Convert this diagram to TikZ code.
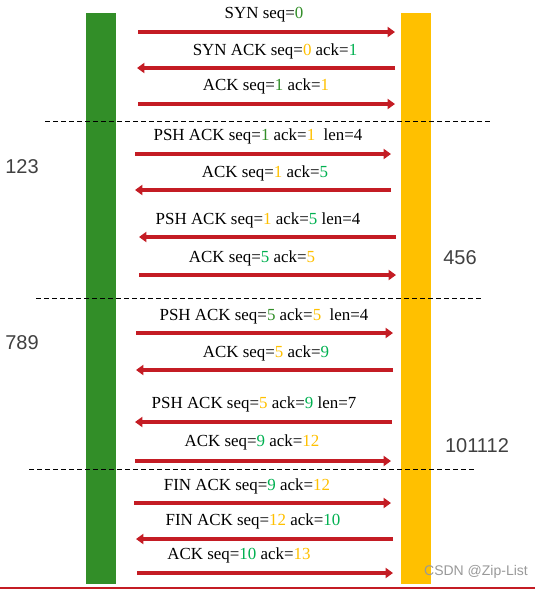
\documentclass[tikz,border=0pt]{standalone}
\usepackage{xcolor}
\usepackage{fontspec}
\setmainfont{Liberation Serif}
\newfontfamily\sidefont{Liberation Sans}
\usepackage{tikz}
\usetikzlibrary{arrows.meta, positioning}

\definecolor{barGreen}{RGB}{50,142,40}
\definecolor{barYellow}{RGB}{255,192,0}
\definecolor{msgRed}{RGB}{196,28,36}
\definecolor{dkGreen}{RGB}{50,142,40}
\definecolor{ltGreen}{RGB}{0,176,80}
\newcommand{\grn}[1]{\textcolor{dkGreen}{#1}}
\newcommand{\lgrn}[1]{\textcolor{ltGreen}{#1}}
\newcommand{\ylw}[1]{\textcolor{barYellow}{#1}}

\begin{document}
\begin{tikzpicture}[
    x=0.75pt, y=-0.75pt,
    lbl/.style={anchor=base, inner sep=0pt, font=\fontsize{12.7}{15}\selectfont},
    side/.style={inner sep=0pt, text=black!75, font=\sidefont\fontsize{15}{18}\selectfont},
    msg/.style={msgRed, line width=3pt, -{Triangle[length=5.5pt, width=7.5pt]}},
    sep/.style={black, line width=0.75pt, dash pattern=on 3.75pt off 2.25pt}
]
\useasboundingbox (0,0) rectangle (535,589);

% the two hosts
\fill[barGreen] (86,13) rectangle (116,584);
\fill[barYellow] (401,13) rectangle (431,584);

% ends of the messages
\coordinate (l1) at (138,32);  \coordinate (r1) at (395,32);
\coordinate (l2) at (137,68);  \coordinate (r2) at (395,68);
\coordinate (l3) at (138,104); \coordinate (r3) at (395,104);
\coordinate (l4) at (135,154); \coordinate (r4) at (391,154);
\coordinate (l5) at (135,190); \coordinate (r5) at (391,190);
\coordinate (l6) at (139,237); \coordinate (r6) at (396,237);
\coordinate (l7) at (139,275); \coordinate (r7) at (396,275);
\coordinate (l8) at (136,333); \coordinate (r8) at (393,333);
\coordinate (l9) at (136,370); \coordinate (r9) at (393,370);
\coordinate (l10) at (135,422); \coordinate (r10) at (392,422);
\coordinate (l11) at (135,461); \coordinate (r11) at (391,461);
\coordinate (l12) at (134,503); \coordinate (r12) at (391,503);
\coordinate (l13) at (136,539); \coordinate (r13) at (393,539);
\coordinate (l14) at (137,573); \coordinate (r14) at (393,573);

% separators
\coordinate (s1a) at (45,121); \coordinate (s1b) at (490,121);
\coordinate (s2a) at (36,298); \coordinate (s2b) at (482,298);
\coordinate (s3a) at (29,469); \coordinate (s3b) at (475,469);
\draw[sep] (s1a) -- (s1b);
\draw[sep] (s2a) -- (s2b);
\draw[sep] (s3a) -- (s3b);

% labels
\node[lbl] (t1) at (264,18) {SYN seq=\grn{0}};
\node[lbl] (t2) at (275,55) {SYN ACK seq=\ylw{0} ack=\lgrn{1}};
\node[lbl] (t3) at (266,90) {ACK seq=\grn{1} ack=\ylw{1}};
\node[lbl] (t4) at (258,140) {PSH ACK seq=\grn{1} ack=\ylw{1}\ \ len=4};
\node[lbl] (t5) at (265,177) {ACK seq=\ylw{1} ack=\lgrn{5}};
\node[lbl] (t6) at (258,224) {PSH ACK seq=\ylw{1} ack=\lgrn{5} len=4};
\node[lbl] (t7) at (252,262) {ACK seq=\lgrn{5} ack=\ylw{5}};
\node[lbl] (t8) at (264,320) {PSH ACK seq=\grn{5} ack=\ylw{5}\ \ len=4};
\node[lbl] (t9) at (266,357) {ACK seq=\ylw{5} ack=\lgrn{9}};
\node[lbl] (t10) at (254,408) {PSH ACK seq=\ylw{5} ack=\lgrn{9} len=7};
\node[lbl] (t11) at (252,446) {ACK seq=\lgrn{9} ack=\ylw{12}};
\node[lbl] (t12) at (247,490) {FIN ACK seq=\lgrn{9} ack=\ylw{12}};
\node[lbl] (t13) at (253,525) {FIN ACK seq=\ylw{12} ack=\lgrn{10}};
\node[lbl] (t14) at (239,559) {ACK seq=\lgrn{10} ack=\ylw{13}};

% messages
\draw[msg] (l1) -- (r1);
\draw[msg] (r2) -- (l2);
\draw[msg] (l3) -- (r3);
\draw[msg] (l4) -- (r4);
\draw[msg] (r5) -- (l5);
\draw[msg] (r6) -- (l6);
\draw[msg] (l7) -- (r7);
\draw[msg] (l8) -- (r8);
\draw[msg] (r9) -- (l9);
\draw[msg] (r10) -- (l10);
\draw[msg] (l11) -- (r11);
\draw[msg] (l12) -- (r12);
\draw[msg] (r13) -- (l13);
\draw[msg] (l14) -- (r14);

% data on each side
\node[side] (n123) at (22,167) {123};
\node[side] (n789) at (22,343) {789};
\node[side] (n456) at (460,258) {456};
\node[side] (n101112) at (477,446) {101112};

\node[inner sep=0pt, text=black!40, font=\sidefont\fontsize{10.5}{12}\selectfont] (mark) at (476,572) {CSDN @Zip-List};
\coordinate (b1) at (0,588); \coordinate (b2) at (535,588);
\draw[msgRed, line width=0.9pt] (b1) -- (b2);
\end{tikzpicture}
\end{document}
